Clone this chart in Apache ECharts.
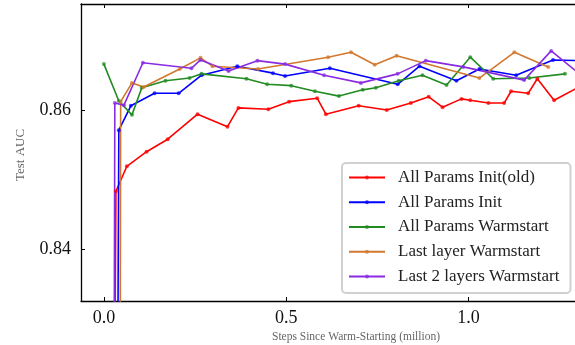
<!DOCTYPE html>
<html>
<head>
<meta charset="utf-8">
<script src="https://cdn.jsdelivr.net/npm/echarts@6/dist/echarts.min.js"></script>
<style>html,body{margin:0;padding:0;background:#fff;}#c{width:575px;height:345px;}</style>
</head>
<body>
<div id="c"></div>
<script>
// ---- data ----
const seriesNames = ['All Params Init(old)', 'All Params Init', 'All Params Warmstart', 'Last layer Warmstart', 'Last 2 layers Warmstart'];
const xTicks = [0.0, 0.5, 1.0];
const yTicks = [0.84, 0.86];

const redX = [0.027, 0.033, 0.063, 0.117, 0.175, 0.257, 0.339, 0.369, 0.451, 0.508, 0.585, 0.609, 0.699, 0.776, 0.842, 0.891, 0.929, 0.981, 1.005, 1.055, 1.098, 1.117, 1.164, 1.189, 1.235, 1.300];
const redY = [0.800, 0.8483, 0.8519, 0.8540, 0.8558, 0.8594, 0.8576, 0.8603, 0.8601, 0.8612, 0.8617, 0.8594, 0.8606, 0.8600, 0.8610, 0.8619, 0.8604, 0.8616, 0.8614, 0.8610, 0.8610, 0.8627, 0.8624, 0.8645, 0.8614, 0.8632];

const blueX = [0.036, 0.041, 0.074, 0.139, 0.205, 0.268, 0.366, 0.464, 0.497, 0.620, 0.806, 0.866, 0.967, 1.030, 1.131, 1.232, 1.300];
const blueY = [0.800, 0.8571, 0.8606, 0.8624, 0.8624, 0.8650, 0.8663, 0.8653, 0.8649, 0.8660, 0.8637, 0.8663, 0.8642, 0.8659, 0.8650, 0.8672, 0.8671];

const greenX = [0.000, 0.041, 0.077, 0.104, 0.169, 0.235, 0.268, 0.391, 0.448, 0.514, 0.579, 0.645, 0.710, 0.746, 0.809, 0.874, 0.940, 1.005, 1.068, 1.167, 1.265];
const greenY = [0.8666, 0.8613, 0.8593, 0.8632, 0.8642, 0.8646, 0.8652, 0.8645, 0.8637, 0.8635, 0.8627, 0.8620, 0.8629, 0.8632, 0.8642, 0.8650, 0.8636, 0.8676, 0.8645, 0.8646, 0.8652];

const orangeX = [0.044, 0.046, 0.077, 0.109, 0.208, 0.265, 0.298, 0.423, 0.615, 0.678, 0.743, 0.803, 1.030, 1.126, 1.219];
const orangeY = [0.800, 0.8612, 0.8639, 0.8633, 0.8659, 0.8675, 0.8663, 0.8659, 0.8676, 0.8683, 0.8665, 0.8678, 0.8646, 0.8683, 0.8662];

const purpleX = [0.027, 0.030, 0.055, 0.107, 0.240, 0.265, 0.342, 0.421, 0.497, 0.604, 0.705, 0.806, 0.883, 0.986, 1.153, 1.227, 1.300];
const purpleY = [0.800, 0.8610, 0.8607, 0.8668, 0.8660, 0.8672, 0.8656, 0.8671, 0.8666, 0.8650, 0.8639, 0.8652, 0.8671, 0.8662, 0.8643, 0.8685, 0.8654];

const colors = ['#ff0000', '#0000ff', '#228b22', '#d2782e', '#8a2be2'];
const allX = [redX, blueX, greenX, orangeX, purpleX];
const allY = [redY, blueY, greenY, orangeY, purpleY];

const FONT = "'Liberation Serif','Times New Roman',serif";
const chart = echarts.init(document.getElementById('c'), null, {renderer: 'canvas'});

const series = seriesNames.map((n, i) => ({
  name: n,
  type: 'line',
  data: allX[i].map((x, k) => [x, allY[i][k]]),
  symbol: 'circle',
  symbolSize: 4,
  showAllSymbol: true,
  clip: true,
  lineStyle: {color: colors[i], width: 1.6},
  itemStyle: {color: colors[i], opacity: 0.75},
  emphasis: {disabled: true},
  animation: false
}));

const xmin = -0.0628, xmax = 1.2924;
const ymin = 0.83252, ymax = 0.87525;

chart.setOption({
  animation: false,
  backgroundColor: '#fff',
  grid: {left: 81, right: -2, top: 4, bottom: 44, containLabel: false},
  xAxis: [{
    type: 'value', min: xmin, max: xmax, position: 'bottom',
    axisLine: {show: true, onZero: false, lineStyle: {color: '#000', width: 1.3}},
    axisTick: {show: true, inside: true, length: 4, customValues: xTicks, lineStyle: {color: '#000', width: 1}},
    axisLabel: {customValues: xTicks, formatter: v => v.toFixed(1), color: '#111', fontFamily: FONT, fontSize: 18, margin: 8},
    splitLine: {show: false}
  }, {
    type: 'value', min: xmin, max: xmax, position: 'top',
    axisLine: {show: true, onZero: false, lineStyle: {color: '#000', width: 1.3}},
    axisTick: {show: true, inside: true, length: 4, customValues: xTicks, lineStyle: {color: '#000', width: 1}},
    axisLabel: {show: false},
    splitLine: {show: false}
  }],
  yAxis: [{
    type: 'value', min: ymin, max: ymax,
    axisLine: {show: true, onZero: false, lineStyle: {color: '#000', width: 1.3}},
    axisTick: {show: true, inside: true, length: 4, customValues: yTicks, lineStyle: {color: '#000', width: 1}},
    axisLabel: {customValues: yTicks, formatter: v => v.toFixed(2), color: '#111', fontFamily: FONT, fontSize: 18, margin: 10},
    splitLine: {show: false}
  }],
  legend: {
    orient: 'vertical',
    left: 342, top: 163,
    padding: [6, 11, 8, 6],
    itemWidth: 36, itemHeight: 5, itemGap: 7.75,
    backgroundColor: 'rgba(255,255,255,0.85)',
    borderColor: '#d0d0d0', borderWidth: 2, borderRadius: 4,
    textStyle: {fontFamily: FONT, fontSize: 17, color: '#222', lineHeight: 17, padding: [0, 0, 0, 8]},
    data: seriesNames,
    selectedMode: false
  },
  graphic: [{
    type: 'text', x: 356, y: 337,
    style: {text: 'Steps Since Warm-Starting (million)', fontFamily: FONT, fontSize: 11.5, fill: '#666', align: 'center', verticalAlign: 'middle'}
  }, {
    type: 'text', x: 21, y: 155, rotation: Math.PI / 2,
    style: {text: 'Test AUC', fontFamily: FONT, fontSize: 13, fill: '#666', align: 'center', verticalAlign: 'middle'}
  }],
  series: series
});
</script>
</body>
</html>
